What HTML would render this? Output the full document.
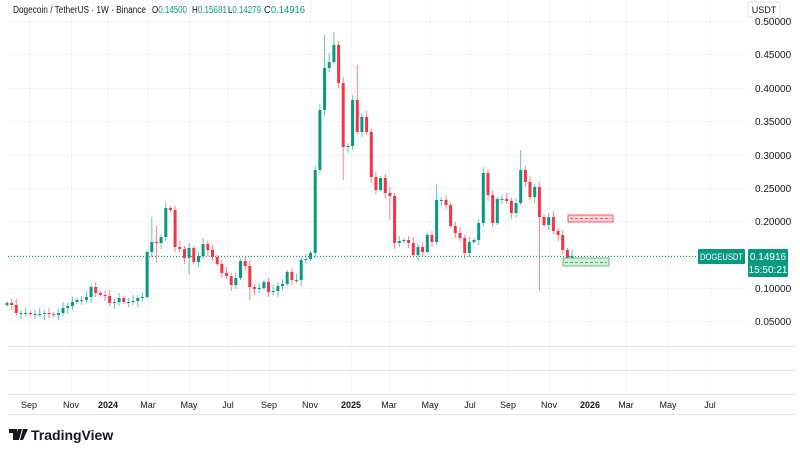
<!DOCTYPE html>
<html><head><meta charset="utf-8"><style>
body{margin:0;background:#fff;width:800px;height:450px;overflow:hidden;font-family:"Liberation Sans",sans-serif}
</style></head><body>
<svg id="s" width="800" height="450" xmlns="http://www.w3.org/2000/svg" font-family="Liberation Sans, sans-serif">
<g stroke="#f0f3fa" stroke-width="1" id="grid"></g>
<line x1="8" y1="346.5" x2="796" y2="346.5" stroke="#e0e3eb"/>
<line x1="8" y1="370.5" x2="796" y2="370.5" stroke="#e0e3eb"/>
<line x1="8" y1="394.5" x2="796" y2="394.5" stroke="#e0e3eb"/>
<line x1="8" y1="414.5" x2="796" y2="414.5" stroke="#e0e3eb"/>
<g id="c"></g>
<line x1="8" y1="256.5" x2="745" y2="256.5" stroke="#089981" stroke-dasharray="1,2" stroke-width="1"/>
<rect x="568" y="215" width="45" height="7" fill="#f7d4d7" stroke="#f23645" stroke-width="0.8"/>
<line x1="570" y1="218.5" x2="611" y2="218.5" stroke="#f23645" stroke-dasharray="3,2" stroke-width="0.8"/>
<rect x="563" y="258" width="46" height="8" fill="#d6eed8" stroke="#4caf50" stroke-width="0.8"/>
<line x1="565" y1="262.5" x2="607" y2="262.5" stroke="#089981" stroke-dasharray="3,2" stroke-width="0.8"/>
<g font-size="10" fill="#131722" id="pl"></g>
<rect x="698" y="249" width="47" height="15" rx="1" fill="#089981"/>
<text x="700" y="260" font-size="9" fill="#fff" textLength="43" lengthAdjust="spacingAndGlyphs">DOGEUSDT</text>
<rect x="748" y="249" width="40" height="28" rx="1" fill="#089981"/>
<text x="768" y="260" font-size="10" fill="#fff" text-anchor="middle">0.14916</text>
<text x="768" y="273" font-size="10" fill="#fff" text-anchor="middle">15:50:21</text>
<rect x="748" y="2" width="32" height="15" rx="2" fill="#fff" stroke="#e0e3eb"/>
<text x="764" y="13" font-size="9" fill="#131722" text-anchor="middle">USDT</text>
<text x="13" y="13" font-size="10" fill="#131722" textLength="133" lengthAdjust="spacingAndGlyphs">Dogecoin / TetherUS · 1W · Binance</text>
<text x="152" y="13" font-size="10" fill="#131722" textLength="35" lengthAdjust="spacingAndGlyphs">O<tspan fill="#089981">0.14500</tspan></text>
<text x="192" y="13" font-size="10" fill="#131722" textLength="35" lengthAdjust="spacingAndGlyphs">H<tspan fill="#089981">0.15681</tspan></text>
<text x="228" y="13" font-size="10" fill="#131722" textLength="33" lengthAdjust="spacingAndGlyphs">L<tspan fill="#089981">0.14279</tspan></text>
<text x="264" y="13" font-size="10" fill="#131722" textLength="41" lengthAdjust="spacingAndGlyphs">C<tspan fill="#089981">0.14916</tspan></text>
<g font-size="9" fill="#131722" text-anchor="middle" id="tl"></g>
<g transform="translate(9,429)">
<path d="M0 0h8v11h-4v-7h-4z M9 0h4l-3 11h-4z M14 0h5l-5 11h-3z" fill="#131722"/>
<text x="22" y="11" font-size="14" font-weight="bold" fill="#131722">TradingView</text>
</g>
</svg>
<script>
(function(){
var NS="http://www.w3.org/2000/svg";
function el(p,t,a,txt){var e=document.createElementNS(NS,t);for(var k in a)e.setAttribute(k,a[k]);if(txt)e.textContent=txt;document.getElementById(p).appendChild(e);return e;}
var py=[[0.5,21],[0.45,54],[0.4,88],[0.35,121],[0.3,155],[0.25,188],[0.2,221],[0.1,288],[0.05,321]];
[21,54,88,121,155,188,221,255,288,321].forEach(function(y){el("grid","line",{x1:8,y1:y+.5,x2:745,y2:y+.5});});
var tx=[["Sep",29],["Nov",71],["2024",108,1],["Mar",148],["May",189],["Jul",228],["Sep",269],["Nov",310],["2025",351,1],["Mar",389],["May",430],["Jul",470],["Sep",508],["Nov",549],["2026",590,1],["Mar",626],["May",668],["Jul",710]];
tx.forEach(function(t){el("grid","line",{x1:t[1]+.5,y1:0,x2:t[1]+.5,y2:394});var e=el("tl","text",{x:t[1],y:408},t[0]);if(t[2])e.setAttribute("font-weight","bold");});
py.forEach(function(p){el("pl","text",{x:755,y:p[1]+4},p[0].toFixed(5));});
var cl=[303,305,313,313,313,314,314,314,313,314,315,313,308,306,302,300,300,297,287,293,295,296,303,302,298,302,302,301,298,297,252,242,243,237,208,210,247,249,258,248,262,256,244,250,257,264,273,276,285,278,261,266,287,289,288,282,292,291,286,284,272,280,280,260,259,253,170,110,68,62,45,83,147,146,100,132,117,132,177,190,178,193,196,243,241,240,243,255,247,252,235,242,200,200,205,226,233,238,253,242,240,223,173,195,223,199,199,201,213,203,170,182,197,187,217,225,217,231,235,250,258,256];
var o=305,spec={31:[217,0],32:[226,263],34:[202,0],39:[0,275],52:[0,300],68:[35,0],69:[53,0],70:[32,0],72:[0,180],75:[65,0],82:[0,220],92:[185,0],110:[150,0],114:[0,290],121:[250,0]};
for(var i=0;i<cl.length;i++){var c=cl[i],x=7+i*4.67;var tp=Math.min(o,c),bt=Math.max(o,c);var h=tp-2-(i*7%5),l=bt+2+(i*3%5);
if(spec[i]){if(spec[i][0])h=spec[i][0];if(spec[i][1])l=spec[i][1];}
var col=c<=o?"#089981":"#f23645";
el("c","line",{x1:x.toFixed(1),y1:h,x2:x.toFixed(1),y2:l,stroke:col,"stroke-width":1,opacity:.6});
el("c","rect",{x:(x-1.5).toFixed(1),y:tp,width:3,height:Math.max(1,bt-tp),fill:col});
o=c;}
})();
</script>
</body></html>
